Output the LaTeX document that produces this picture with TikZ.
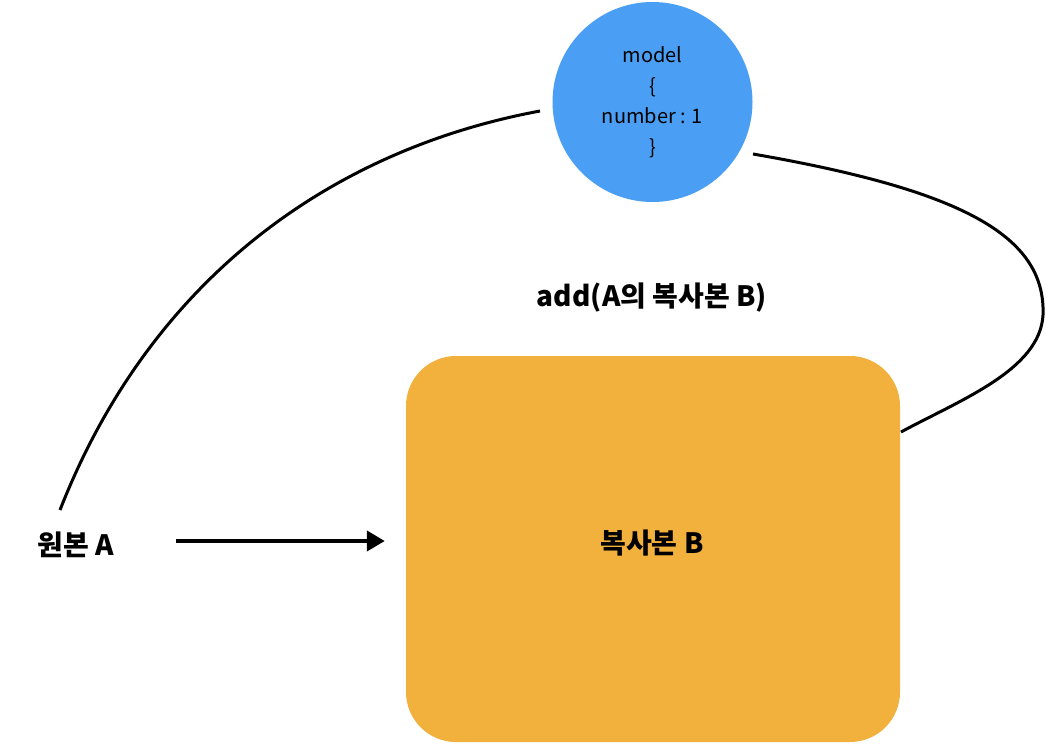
\documentclass[tikz,border=0pt]{standalone}
\usepackage{fontspec}
\setmainfont{Noto Sans CJK KR}
\newfontfamily\kr{Noto Sans CJK KR}
\usetikzlibrary{arrows.meta}
\definecolor{boxorange}{HTML}{F2B13D}
\definecolor{circblue}{HTML}{4A9FF5}
\tikzset{
  lbl/.style={font=\kr\bfseries\fontsize{28}{32}\selectfont, inner sep=0pt},
  modelcirc/.style={circle, fill=circblue, minimum size=200pt, inner sep=0pt, align=center,
    font=\kr\fontsize{20}{30.5}\selectfont},
  copybox/.style={rounded corners=50pt, fill=boxorange, minimum width=494pt, minimum height=386pt, inner sep=0pt},
  curve/.style={line width=3pt},
  arr/.style={line width=4pt, -{Triangle[length=18pt,width=20pt]}}
}
\begin{document}
\begin{tikzpicture}[x=1pt,y=-1pt]
\path[use as bounding box] (0,0) rectangle (1046,744);
\node[modelcirc] (M) at (652.5,102) {model\\\{\\number : 1\\\}};
\node[copybox] (B) at (653,549) {};
\node[lbl] (BL) at (652,543) {복사본 B};
\node[lbl] (A) at (76,545) {원본 A};
\node[lbl] (add) at (652,298) {add(A의 복사본 B)};
\coordinate (ls) at (60,510);
\coordinate (le) at (540,111);
\coordinate (rs) at (753,154);
\coordinate (rm) at (1043,315);
\coordinate (re) at (901,432);
\draw[curve] (ls) .. controls (150,280) and (330,150) .. (le);
\draw[curve] (rs) .. controls (960,190) and (1046,235) .. (rm) .. controls (1040,370) and (960,400) .. (re);
\draw[arr, shorten <=62pt, shorten >=21pt] ([yshift=4pt]A.east) -- ([yshift=4pt]B.west |- A.east);
\end{tikzpicture}
\end{document}
